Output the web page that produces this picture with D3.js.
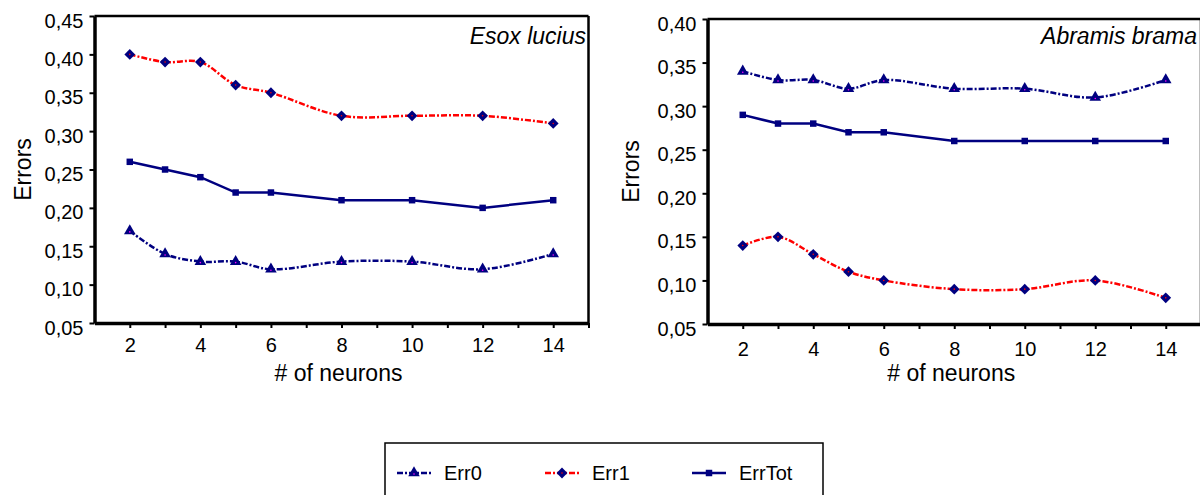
<!DOCTYPE html>
<html>
<head>
<meta charset="utf-8">
<script src="https://cdn.jsdelivr.net/npm/d3@7"></script>
<style>
  body { margin: 0; background: #fff; }
  svg { display: block; font-family: "Liberation Sans", Arial, sans-serif; }
</style>
</head>
<body>
<div id="chart"></div>
<script>
// data
var neurons = [2, 3, 4, 5, 6, 8, 10, 12, 14];

var esoxErr0   = [0.17, 0.14, 0.13, 0.13, 0.12, 0.13, 0.13, 0.12, 0.14];
var esoxErr1   = [0.40, 0.39, 0.39, 0.36, 0.35, 0.32, 0.32, 0.32, 0.31];
var esoxErrTot = [0.26, 0.25, 0.24, 0.22, 0.22, 0.21, 0.21, 0.20, 0.21];

var bramaErr0   = [0.34, 0.33, 0.33, 0.32, 0.33, 0.32, 0.32, 0.31, 0.33];
var bramaErr1   = [0.14, 0.15, 0.13, 0.11, 0.10, 0.09, 0.09, 0.10, 0.08];
var bramaErrTot = [0.29, 0.28, 0.28, 0.27, 0.27, 0.26, 0.26, 0.26, 0.26];

var esoxYTicks  = [0.05, 0.10, 0.15, 0.20, 0.25, 0.30, 0.35, 0.40, 0.45];
var bramaYTicks = [0.05, 0.10, 0.15, 0.20, 0.25, 0.30, 0.35, 0.40];
var xTickValues = [2, 3, 4, 5, 6, 7, 8, 9, 10, 11, 12, 13, 14, 15];
var xTickLabels = [2, 4, 6, 8, 10, 12, 14];

var seriesNames = ["Err0", "Err1", "ErrTot"];

var navy = "#000080", red = "#ff0000";

var styles = {
  Err0:   {stroke: navy, dash: "6,2,2,2", width: 2.5, curve: d3.curveCatmullRom, marker: "triangle", dot: "#ff00ff"},
  Err1:   {stroke: red,  dash: "6,2,2,2", width: 2.5, curve: d3.curveCatmullRom, marker: "diamond",  dot: red},
  ErrTot: {stroke: navy, dash: null,      width: 2.5, curve: d3.curveLinear,  marker: "square",   dot: null}
};

var svg = d3.select("#chart").append("svg")
  .attr("width", 1200)
  .attr("height", 495);

function markerPath(kind) {
  if (kind == "triangle") return d3.symbol().type(d3.symbolTriangle).size(58)();
  if (kind == "diamond") return d3.symbol().type(d3.symbolSquare).size(58)();
  return d3.symbol().type(d3.symbolSquare).size(42)();
}

function drawMarker(g, kind, dot, cx, cy) {
  g.append("path")
    .attr("d", markerPath(kind))
    .attr("fill", navy)
    .attr("transform", "translate(" + cx + "," + cy + ")" + (kind == "diamond" ? " rotate(45)" : ""));
  if (dot) {
    g.append("circle").attr("cx", cx).attr("cy", cy + (kind == "triangle" ? 1 : 0))
      .attr("r", 0.8).attr("fill", dot);
  }
}

function drawPanel(p) {
  var x = d3.scaleLinear().domain([1, 15]).range([p.left, p.right]);
  var y = d3.scaleLinear().domain([p.yTicks[0], p.yTicks[p.yTicks.length - 1]]).range([p.bottom, p.top]);

  var g = svg.append("g");

  // top and right frame
  g.append("line").attr("x1", p.left).attr("x2", p.right).attr("y1", p.top).attr("y2", p.top)
    .attr("stroke", "#000").attr("stroke-width", 2.5);
  g.append("line").attr("x1", p.right).attr("x2", p.right).attr("y1", p.top).attr("y2", p.bottom)
    .attr("stroke", "#000").attr("stroke-width", 2.5);

  // x axis
  var xAxis = d3.axisBottom(x)
    .tickValues(xTickValues)
    .tickSizeInner(5).tickSizeOuter(0).tickPadding(p.xPad)
    .tickFormat(function(d) { return xTickLabels.indexOf(d) >= 0 ? d : ""; });
  var gx = g.append("g").attr("transform", "translate(0," + p.bottom + ")").call(xAxis);
  gx.select(".domain").attr("stroke-width", 3.5);
  gx.selectAll(".tick line").attr("stroke-width", 2);
  gx.selectAll("text").attr("font-size", 20).attr("font-family", "Liberation Sans, Arial, sans-serif").attr("fill", "#000");

  // y axis
  var yAxis = d3.axisLeft(y)
    .tickValues(p.yTicks)
    .tickSizeInner(5).tickSizeOuter(0).tickPadding(6)
    .tickFormat(function(d) { return d.toFixed(2).replace(".", ","); });
  var gy = g.append("g").attr("transform", "translate(" + p.left + ",0)").call(yAxis);
  gy.select(".domain").attr("stroke-width", 3.5);
  gy.selectAll(".tick line").attr("stroke-width", 2);
  gy.selectAll("text").attr("font-size", 20).attr("font-family", "Liberation Sans, Arial, sans-serif").attr("fill", "#000").attr("dy", "0.55em");

  // axis titles
  g.append("text")
    .attr("x", (p.left + p.right) / 2 - 3).attr("y", 381)
    .attr("text-anchor", "middle").attr("font-size", 23)
    .text("# of neurons");
  g.append("text")
    .attr("transform", "translate(" + p.yTitleX + "," + ((p.top + p.bottom) / 2) + ") rotate(-90)")
    .attr("text-anchor", "middle").attr("font-size", 23)
    .text("Errors");

  // species
  g.append("text")
    .attr("x", p.titleX).attr("y", 44)
    .attr("text-anchor", "end").attr("font-size", 23).attr("font-style", "italic")
    .text(p.title);

  // series
  seriesNames.forEach(function(name) {
    var vals = p.series[name];
    var st = styles[name];
    var line = d3.line()
      .x(function(d, i) { return x(neurons[i]); })
      .y(function(d) { return y(d); })
      .curve(st.curve);
    g.append("path")
      .datum(vals)
      .attr("d", line)
      .attr("fill", "none")
      .attr("stroke", st.stroke)
      .attr("stroke-width", st.width)
      .attr("stroke-dasharray", st.dash);
    vals.forEach(function(v, i) {
      drawMarker(g, st.marker, st.dot, x(neurons[i]), y(v));
    });
  });
}

drawPanel({
  left: 94.5, right: 588.5, top: 16, bottom: 323,
  yTicks: esoxYTicks, xPad: 10, yTitleX: 31, titleX: 586,
  title: "Esox lucius",
  series: {Err0: esoxErr0, Err1: esoxErr1, ErrTot: esoxErrTot}
});

drawPanel({
  left: 707.5, right: 1201, top: 19, bottom: 324,
  yTicks: bramaYTicks, xPad: 13, yTitleX: 639, titleX: 1197,
  title: "Abramis brama",
  series: {Err0: bramaErr0, Err1: bramaErr1, ErrTot: bramaErrTot}
});

// legend
var legend = svg.append("g");
legend.append("rect")
  .attr("x", 385).attr("y", 443).attr("width", 438).attr("height", 70)
  .attr("fill", "none").attr("stroke", "#000").attr("stroke-width", 1.5);

var legendX = [397, 545, 692];
seriesNames.forEach(function(name, i) {
  var st = styles[name];
  var lx = legendX[i], ly = 473;
  legend.append("line")
    .attr("x1", lx).attr("x2", lx + 34).attr("y1", ly).attr("y2", ly)
    .attr("stroke", st.stroke).attr("stroke-width", st.width)
    .attr("stroke-dasharray", st.dash);
  drawMarker(legend, st.marker, st.dot, lx + 17, ly);
  legend.append("text")
    .attr("x", lx + 47).attr("y", ly).attr("dy", "0.36em")
    .attr("font-size", 20)
    .text(name);
});
</script>
</body>
</html>
